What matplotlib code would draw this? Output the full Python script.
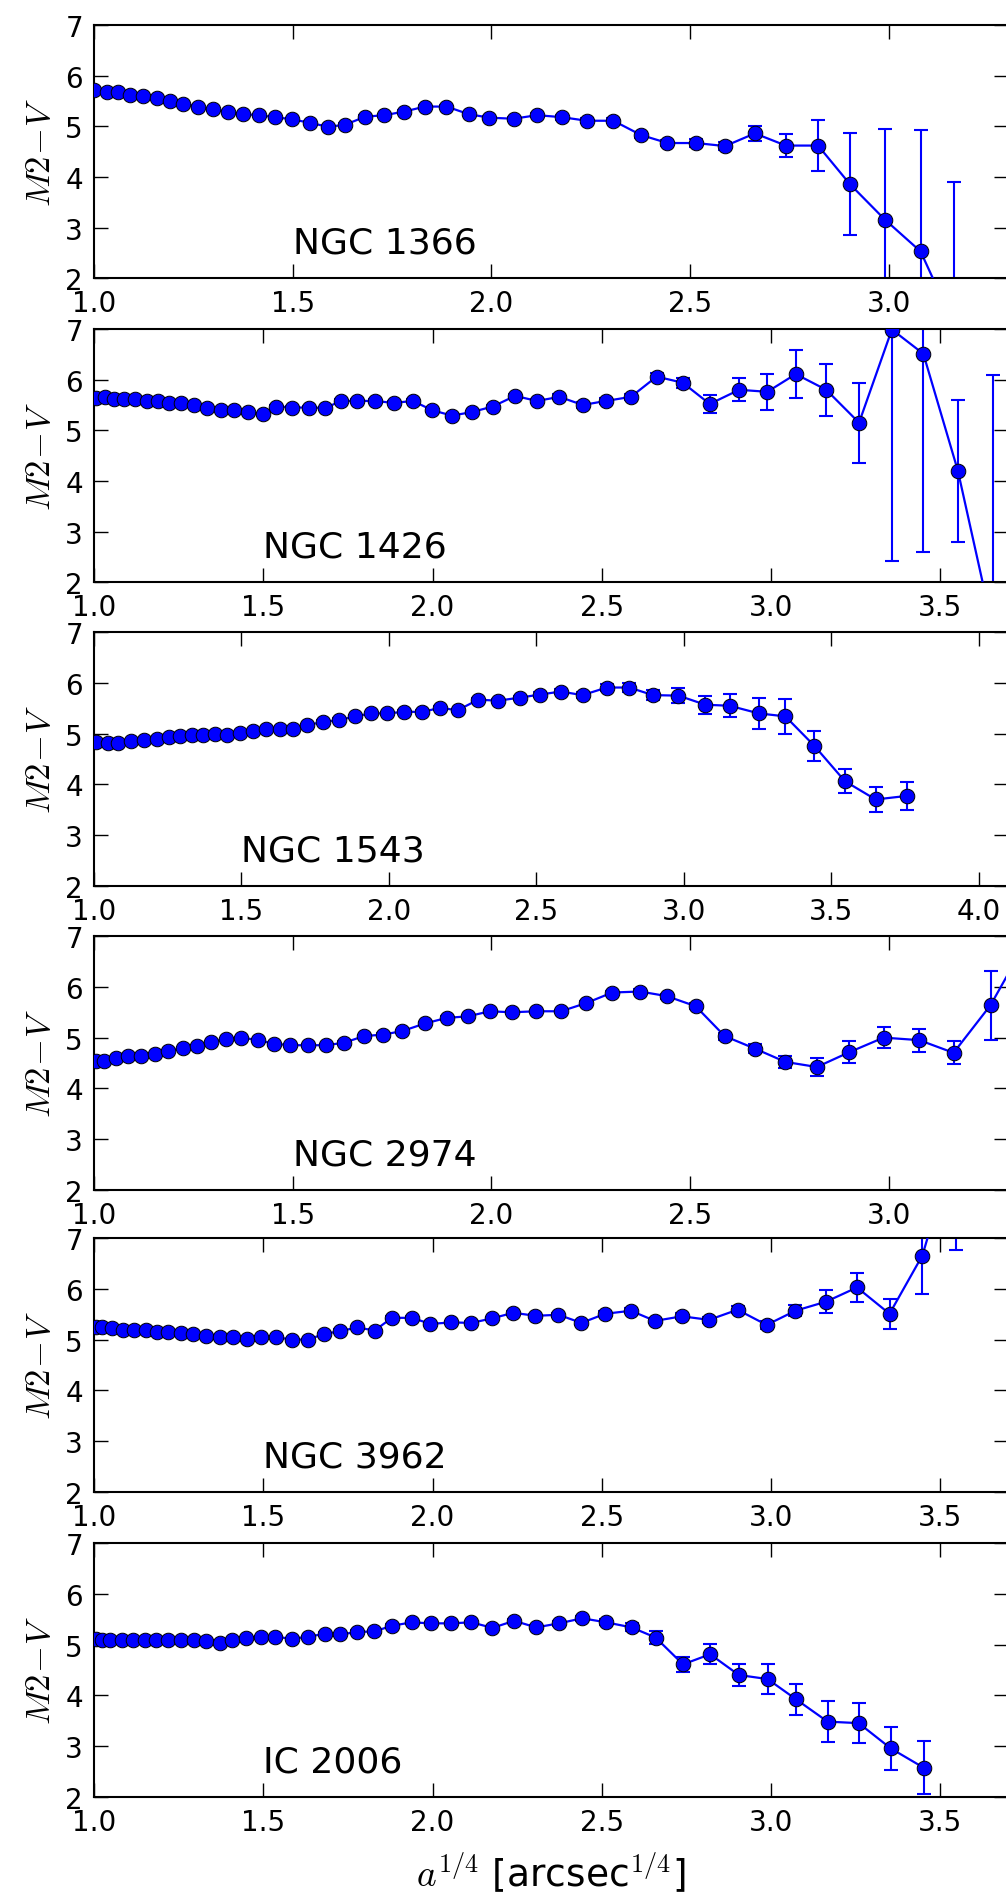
import numpy as np
import matplotlib
matplotlib.use('Agg')
import matplotlib.pyplot as plt

plt.rcParams['mathtext.fontset'] = 'cm'
plt.rcParams['font.family'] = 'DejaVu Sans'

names = ['NGC 1366', 'NGC 1426', 'NGC 1543', 'NGC 2974', 'NGC 3962', 'IC 2006']
xmax = [3.3, 3.7, 4.1, 3.3, 3.7, 3.7]

# NGC 1366
x1 = [1.00, 1.033, 1.060, 1.091, 1.123, 1.158, 1.192, 1.225, 1.262, 1.299, 1.336, 1.375, 1.415,
      1.456, 1.497, 1.543, 1.589, 1.631, 1.683, 1.731, 1.780, 1.833, 1.887, 1.943, 1.995,
      2.056, 2.115, 2.178, 2.240, 2.307, 2.376, 2.443, 2.515, 2.588, 2.663, 2.741, 2.822,
      2.902, 2.990, 3.080, 3.163]
y1 = [5.72, 5.67, 5.67, 5.62, 5.60, 5.56, 5.49, 5.45, 5.39, 5.34, 5.29, 5.24, 5.22,
      5.18, 5.14, 5.07, 4.99, 5.03, 5.19, 5.22, 5.29, 5.39, 5.39, 5.24, 5.17,
      5.15, 5.22, 5.18, 5.11, 5.11, 4.83, 4.67, 4.67, 4.61, 4.86, 4.62, 4.62,
      3.86, 3.16, 2.53, 1.11]
e1 = [0.02] * 13 + [0.03] * 12 + [0.04, 0.04, 0.05, 0.05, 0.05, 0.06, 0.06, 0.07, 0.08,
      0.14, 0.23, 0.50, 1.00, 1.78, 2.40, 2.80]

# NGC 1426
x2 = [1.005, 1.032, 1.059, 1.089, 1.120, 1.158, 1.189, 1.221, 1.258, 1.295, 1.334, 1.374,
      1.413, 1.454, 1.499, 1.539, 1.586, 1.635, 1.683, 1.730, 1.777, 1.831, 1.885, 1.942,
      1.998, 2.057, 2.116, 2.178, 2.244, 2.308, 2.375, 2.444, 2.512, 2.586, 2.662, 2.739,
      2.819, 2.906, 2.989, 3.073, 3.163, 3.260, 3.357, 3.450, 3.552, 3.655]
y2 = [5.63, 5.65, 5.62, 5.62, 5.62, 5.57, 5.57, 5.54, 5.54, 5.50, 5.44, 5.40,
      5.40, 5.36, 5.32, 5.47, 5.45, 5.45, 5.44, 5.58, 5.58, 5.58, 5.54, 5.58,
      5.40, 5.29, 5.36, 5.47, 5.68, 5.58, 5.66, 5.50, 5.58, 5.66, 6.06, 5.94,
      5.52, 5.80, 5.76, 6.11, 5.80, 5.15, 6.99, 6.51, 4.20, 1.10]
e2 = [0.02] * 14 + [0.03] * 14 + [0.04, 0.04, 0.05, 0.05, 0.06, 0.06, 0.08, 0.10,
      0.17, 0.23, 0.35, 0.47, 0.51, 0.79, 4.57, 3.91, 1.40, 5.00]

# NGC 1543
x3 = [1.006, 1.046, 1.082, 1.126, 1.169, 1.213, 1.256, 1.293, 1.332, 1.371, 1.410, 1.452,
      1.495, 1.539, 1.582, 1.630, 1.675, 1.723, 1.777, 1.832, 1.886, 1.940, 1.994, 2.053,
      2.114, 2.175, 2.233, 2.303, 2.370, 2.444, 2.511, 2.583, 2.657, 2.739, 2.815, 2.896,
      2.982, 3.074, 3.156, 3.254, 3.345, 3.443, 3.547, 3.651, 3.756]
y3 = [4.84, 4.82, 4.82, 4.86, 4.88, 4.90, 4.94, 4.95, 4.98, 4.97, 4.99, 4.97,
      5.02, 5.05, 5.09, 5.09, 5.09, 5.17, 5.23, 5.27, 5.34, 5.40, 5.40, 5.43,
      5.43, 5.51, 5.46, 5.67, 5.65, 5.71, 5.77, 5.83, 5.76, 5.91, 5.91, 5.76,
      5.75, 5.57, 5.55, 5.40, 5.34, 4.76, 4.06, 3.70, 3.77]
e3 = [0.02] * 18 + [0.03] * 10 + [0.04, 0.04, 0.05, 0.05, 0.06, 0.07, 0.08, 0.10,
      0.15, 0.18, 0.23, 0.30, 0.34, 0.30, 0.24, 0.24, 0.28]

# NGC 2974
x4 = [1.005, 1.024, 1.056, 1.086, 1.118, 1.153, 1.187, 1.223, 1.258, 1.295, 1.331, 1.371,
      1.413, 1.453, 1.494, 1.539, 1.584, 1.630, 1.679, 1.728, 1.776, 1.833, 1.888, 1.941,
      1.996, 2.052, 2.112, 2.175, 2.238, 2.304, 2.374, 2.441, 2.514, 2.587, 2.664, 2.740,
      2.819, 2.900, 2.987, 3.077, 3.163, 3.256, 3.35]
y4 = [4.53, 4.53, 4.60, 4.63, 4.64, 4.68, 4.73, 4.80, 4.84, 4.91, 4.98, 5.00,
      4.95, 4.88, 4.85, 4.85, 4.85, 4.90, 5.03, 5.06, 5.13, 5.28, 5.39, 5.42,
      5.52, 5.50, 5.52, 5.52, 5.68, 5.89, 5.91, 5.82, 5.62, 5.03, 4.78, 4.52,
      4.42, 4.71, 5.00, 4.95, 4.70, 5.64, 6.95]
e4 = [0.02] * 16 + [0.03] * 12 + [0.04, 0.04, 0.05, 0.05, 0.06, 0.07, 0.09, 0.12,
      0.17, 0.22, 0.21, 0.23, 0.23, 0.68, 0.40]

# NGC 3962
x5 = [1.006, 1.025, 1.053, 1.085, 1.119, 1.153, 1.186, 1.219, 1.257, 1.293, 1.331, 1.371,
      1.411, 1.452, 1.494, 1.537, 1.585, 1.632, 1.679, 1.728, 1.778, 1.829, 1.880, 1.939,
      1.994, 2.056, 2.115, 2.176, 2.239, 2.304, 2.372, 2.440, 2.510, 2.586, 2.657, 2.737,
      2.817, 2.901, 2.987, 3.072, 3.163, 3.254, 3.350, 3.447, 3.545]
y5 = [5.24, 5.24, 5.22, 5.19, 5.19, 5.19, 5.16, 5.16, 5.13, 5.11, 5.08, 5.06,
      5.06, 5.01, 5.05, 5.05, 5.00, 5.00, 5.11, 5.17, 5.24, 5.18, 5.43, 5.43,
      5.31, 5.34, 5.33, 5.42, 5.53, 5.47, 5.49, 5.33, 5.51, 5.57, 5.37, 5.46,
      5.39, 5.59, 5.29, 5.57, 5.75, 6.03, 5.51, 6.66, 8.87]
e5 = [0.02] * 18 + [0.03] * 12 + [0.04, 0.04, 0.05, 0.05, 0.05, 0.06, 0.06, 0.07,
      0.08, 0.11, 0.22, 0.29, 0.30, 0.76, 2.10]

# IC 2006
x6 = [1.006, 1.025, 1.047, 1.082, 1.116, 1.150, 1.184, 1.218, 1.256, 1.294, 1.332, 1.371,
      1.408, 1.449, 1.493, 1.536, 1.584, 1.633, 1.681, 1.728, 1.777, 1.828, 1.879, 1.938,
      1.995, 2.054, 2.115, 2.177, 2.241, 2.306, 2.374, 2.442, 2.513, 2.588, 2.659, 2.740,
      2.820, 2.905, 2.990, 3.074, 3.167, 3.259, 3.354, 3.451]
y6 = [5.11, 5.09, 5.09, 5.09, 5.09, 5.09, 5.09, 5.09, 5.09, 5.09, 5.08, 5.04,
      5.09, 5.13, 5.16, 5.16, 5.11, 5.16, 5.21, 5.20, 5.25, 5.26, 5.37, 5.44,
      5.42, 5.42, 5.44, 5.33, 5.47, 5.34, 5.42, 5.52, 5.44, 5.34, 5.14, 4.61,
      4.81, 4.40, 4.32, 3.92, 3.48, 3.45, 2.95, 2.57]
e6 = [0.02] * 18 + [0.03] * 10 + [0.04, 0.04, 0.05, 0.05, 0.06, 0.08, 0.13, 0.15,
      0.20, 0.22, 0.30, 0.30, 0.41, 0.39, 0.43, 0.52]

xs = [x1, x2, x3, x4, x5, x6]
ys = [y1, y2, y3, y4, y5, y6]
es = [e1, e2, e3, e4, e5, e6]

W, H = 1006, 1899
fig = plt.figure(figsize=(W / 100, H / 100), dpi=100)
tops = [26, 330, 633.3, 937.3, 1239.3, 1544.3]
ah = 253.3

for i in range(6):
    ax = fig.add_axes([94 / W, 1 - (tops[i] + ah) / H, 914 / W, ah / H])
    ax.errorbar(xs[i], ys[i], yerr=es[i], fmt='none', ecolor='b', elinewidth=1.5,
                capsize=5, capthick=1.5, zorder=2)
    ax.plot(xs[i], ys[i], '-o', color='b', lw=1.6, ms=10.5, mec='k', mew=0.7, zorder=3)
    ax.set_xlim(1.0, xmax[i])
    ax.set_ylim(2, 7)
    ax.set_xticks(np.arange(1.0, xmax[i] + 0.01, 0.5))
    ax.set_yticks([2, 3, 4, 5, 6, 7])
    ax.tick_params(direction='in', top=True, right=True, length=10, width=1,
                   labelsize=20, pad=8)
    for s in ax.spines.values():
        s.set_linewidth(1.5)
    ax.text(1.5, 2.5, names[i], fontsize=26)
    ax.set_ylabel(r'$M2\!-\!V$', fontsize=25, labelpad=6)

ax.set_xlabel(r'$a^{1/4}$ [arcsec$^{1/4}$]', fontsize=27, labelpad=10)

fig.savefig('out.png', dpi=100)
